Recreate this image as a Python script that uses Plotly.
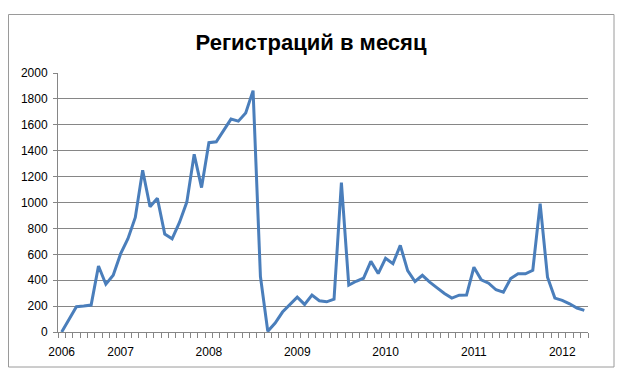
import plotly.graph_objects as go

# Monthly registrations, May 2006 .. April 2012 (72 months)
values = [0, 95, 195, 200, 208, 510, 369, 438, 603, 720, 885, 1249,
          967, 1033, 756, 720, 846, 1003, 1372, 1115, 1462, 1469, 1556, 1644,
          1628, 1692, 1864, 428, 5, 69, 154, 210, 269, 213, 285, 241,
          233, 254, 1154, 362, 392, 415, 546, 451, 569, 528, 669, 474,
          390, 438, 385, 341, 297, 262, 284, 285, 500, 403, 377, 326,
          308, 413, 449, 449, 477, 992, 423, 262, 244, 218, 185, 167]
year_labels = ["2006", "2007", "2008", "2009", "2010", "2011", "2012"]
year_label_index = [0, 8, 20, 32, 44, 56, 68]
y_ticks = list(range(0, 2001, 200))

x = list(range(len(values)))
n = len(values)

# page body has an 8px margin; compensate so the figure lines up with the window
OFF = 8
W, H = 630 - OFF, 380 - OFF
L, R, T, B = 58 - OFF, 42, 73 - OFF, 48
pw, ph = W - L - R, H - T - B

def px(xp):
    return (xp - OFF - L) / pw

def py(yp):
    return (H - B - (yp - OFF)) / ph

fig = go.Figure()
fig.add_trace(go.Scatter(
    x=x, y=values, mode="lines",
    line=dict(color="#4A7EBB", width=3),
    hoverinfo="skip",
))

font = dict(family="Liberation Sans, Arial, sans-serif", size=12, color="#000000")

fig.update_layout(
    width=W, height=H,
    margin=dict(l=L, r=R, t=T, b=B, autoexpand=False),
    paper_bgcolor="white", plot_bgcolor="white",
    showlegend=False,
    font=font,
    title=dict(text="<b>Регистраций в месяц</b>", xref="container", yref="container",
               x=(311 - OFF) / W, y=1 - (42 - OFF) / H, xanchor="center", yanchor="middle",
               font=dict(family="Liberation Sans, Arial, sans-serif", size=22, color="#000000")),
    xaxis=dict(
        range=[-0.5, n - 0.5],
        tickmode="array", tickvals=year_label_index, ticktext=year_labels,
        ticks="outside", ticklen=9, tickcolor="rgba(0,0,0,0)",
        showgrid=False, zeroline=False,
        showline=True, linecolor="#868686", linewidth=1,
        tickfont=font,
        minor=dict(tickmode="array", tickvals=[i - 0.5 for i in range(n + 1)],
                   ticks="outside", ticklen=5, tickcolor="#868686", tickwidth=1,
                   showgrid=False),
        fixedrange=True,
    ),
    yaxis=dict(
        range=[0, 2000],
        tickmode="array", tickvals=y_ticks,
        ticks="outside", ticklen=4, tickcolor="#868686",
        ticklabelstandoff=3,
        showgrid=True, gridcolor="#868686", gridwidth=1,
        zeroline=False,
        showline=True, linecolor="#868686", linewidth=1,
        tickfont=font,
        fixedrange=True,
    ),
    shapes=[dict(type="rect", xref="paper", yref="paper",
                 x0=px(8.5), x1=px(614), y0=py(367), y1=py(14.5),
                 line=dict(color="#9A9A9A", width=1), layer="below")],
)

fig.write_html("out.html")
